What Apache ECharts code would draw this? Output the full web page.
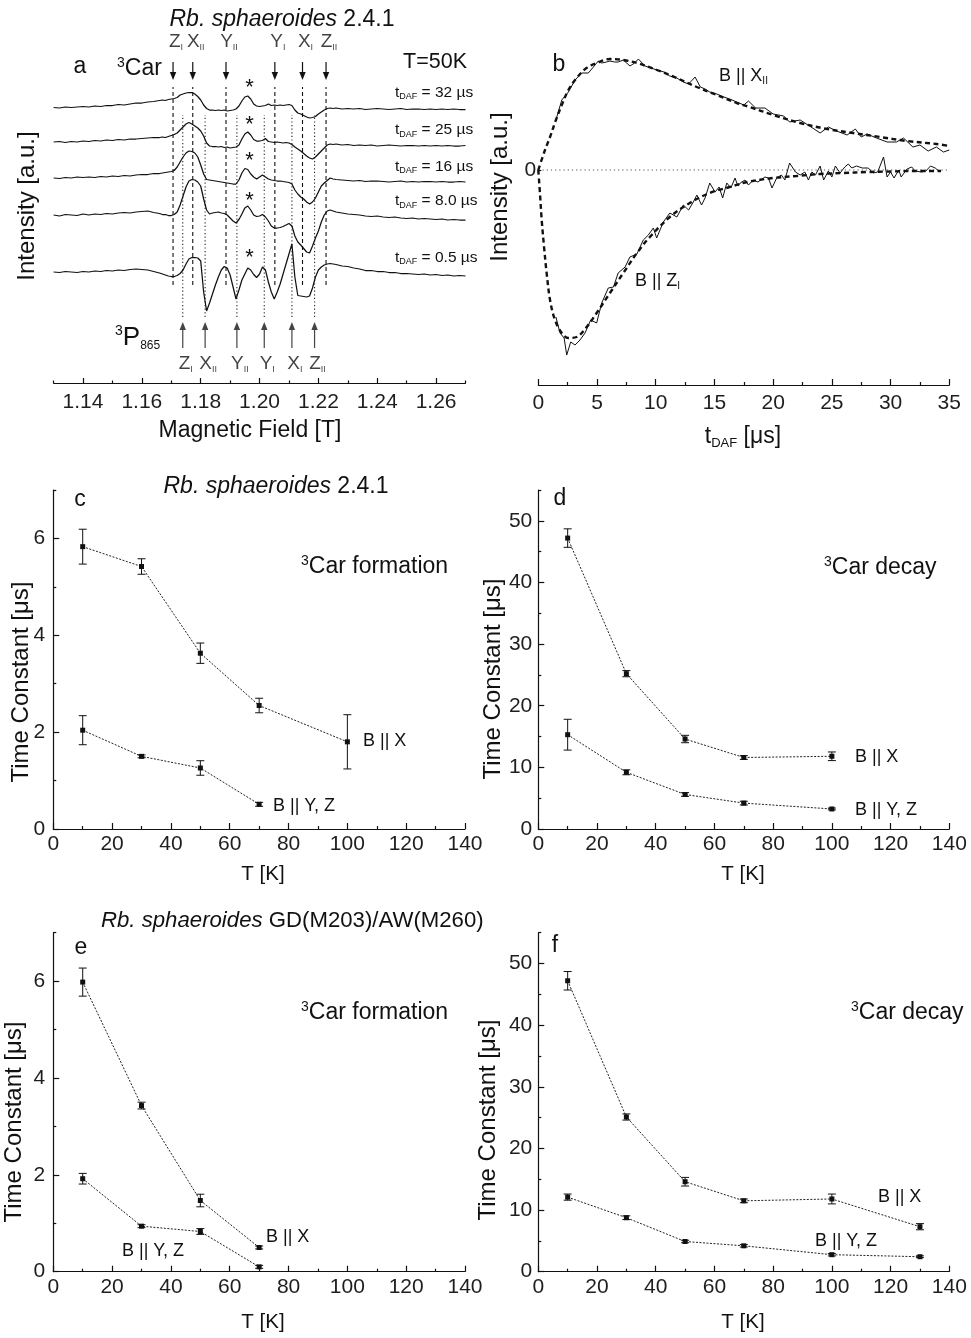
<!DOCTYPE html>
<html><head><meta charset="utf-8">
<script src="https://cdn.jsdelivr.net/npm/echarts@6/dist/echarts.min.js"></script>
<style>html,body{margin:0;padding:0;background:#fff}#c{width:971px;height:1338px}</style>
</head><body><div id="c"></div>
<script>
// ---------------- Panel a: EPR spectra ----------------
const fieldA = [1.130,1.132,1.134,1.136,1.138,1.140,1.142,1.144,1.146,1.148,1.150,1.152,1.154,1.156,1.158,1.160,1.162,1.164,
1.166,1.167,1.168,1.169,1.170,1.171,1.172,1.173,1.174,1.175,1.176,1.177,1.178,1.179,1.180,1.181,1.182,1.183,1.184,1.185,1.186,1.187,1.188,1.189,1.190,1.191,1.192,1.193,1.194,1.195,1.196,1.197,1.198,1.199,1.200,1.201,1.202,1.203,1.204,1.205,1.206,1.207,1.208,1.209,1.210,1.211,1.212,1.213,1.214,1.215,1.216,1.217,1.218,1.219,1.220,1.221,1.222,1.223,1.224,1.225,1.226,
1.228,1.230,1.232,1.234,1.236,1.238,1.240,1.242,1.244,1.246,1.248,1.250,1.252,1.254,1.256,1.258,1.260,1.262,1.264,1.266,1.268,1.270];
const spec32 = [0.5,0,1,0.5,1,1.5,1,2,1.5,2.5,2.5,3.5,3,4,5,5,6,6.5,
7.5,8,7.5,8.5,9,9.5,10.5,13,14,15,15.5,15.5,14,11.5,8,3,-0.5,-2,-2,-2.5,-2,-2.5,-2,-3,-2.5,-2,-1,2,7,11,12,9,4,2,1.5,2,2.5,4,2.5,3,2.5,3,2.5,3,3.5,2.5,-2,-5,-6,-7.5,-9,-10,-9.5,-8.5,-6,-4,-2,-0.5,0,-0.5,0,
-1,-0.5,-1,-0.5,-1.5,-1,-0.5,-1,-1.5,-1,-0.5,-1.5,-1,-1,-1.5,-1,-1.5,-1,-1.5,-1,-1.5,-1.5];
const spec25 = [0,0.5,-0.5,0.5,0,1,0.5,1.5,1,2,1.5,2.5,2,3,3,3.5,4,4.5,
4.5,5,4.5,5.5,6.5,7.5,9,12,15,18,19.5,18,16,14,11,6,-1,-4,-4.5,-4.5,-5,-4.5,-5.5,-5,-6,-5.5,-5,-3,3,8,10,7,2.5,1,1,1.5,3.5,0.5,0,-0.5,0,-0.5,-1,-0.5,-1,-2.5,-5,-7,-9,-11.5,-14,-16,-17,-15,-12,-9,-6,-3,-2,-2.5,-2,
-3,-2.5,-3.5,-3,-3.5,-3,-4,-3.5,-3,-3.5,-4,-3.5,-3.5,-4,-3.5,-4,-3.5,-4,-3.5,-4,-4,-3.5];
const spec16 = [0,-0.5,0.5,0,1,0.5,1,0.5,1.5,1,2,1.5,2.5,2,3,3.5,3.5,4.5,
4.5,5,5.5,6,6.5,7.5,11,16,21,25,27,26.5,25,21,13,4,-1.5,-2,-2.5,-3,-3.5,-4,-4.5,-5,-5.5,-6,-6,-2,5,9.5,8.5,4,1,-1,1,3,1,-1,-2,-2.5,-3,-3,-3.5,-4,-4.5,-6,-12,-16,-19,-21,-24,-26,-24,-20,-14,-8,-5,-2.5,0,-1,-1.5,
-2,-2.5,-3,-2.5,-3.5,-3,-3,-3.5,-4,-3.5,-3,-4,-3.5,-4,-3.5,-3.5,-4,-3.5,-4,-4,-3.5,-4];
const spec8 = [0,-1,0.5,0,-0.5,1,0,1,0.5,1.5,1,2,2.5,2,3,3.5,4,2.5,
1.5,0.5,0.5,-0.5,-0.5,0.5,3,10,19,28,34,35.5,35,33,29,16,5,1,2,2.5,3,2,1.5,0,-3,-6,-8,-4.5,1,7,9,5,0,-1.5,-1,0.5,-2,-6,-11,-13,-13,-12.5,-11.5,-10,-8.5,-11,-21,-27,-30,-33.5,-37,-38,-31,-23,-16,-7,0,4,5,4,3,
2,1,0.5,0,-1,-1.5,-1,-2,-2.5,-2,-3,-3.5,-3,-4,-3.5,-4,-4.5,-4,-5,-4.5,-5,-5];
const spec05 = [0,-0.5,0.5,0,-0.5,0.5,0,1,0.5,1.5,1,2,1.5,2.5,3,2.5,2,0.5,
-1,-2,-3,-4,-4.5,-4.5,-3.5,-1.5,2,8,13,14.5,14.5,14,11,-20,-39,-31,-22,-13,-5,2,5.5,4,-3,-15,-27,-18,-8,-2,4,2,-2.5,-5.5,-2,5,2,-10,-20,-27,-20,-12,-2,8,18,28,-5,-23.5,-24,-24.5,-25,-24,-16,-5,2,5,7,8,8.5,8,7.5,
6,5.5,4,3,1.5,1.5,0.5,0.5,-0.5,-0.5,-1.5,-1.5,-2,-2.5,-2,-3,-2.5,-3.5,-3,-4,-3.5,-4];
const specTraces = [spec32, spec25, spec16, spec8, spec05];
const specOffsets = [275, 241, 205, 168, 111];
const specTimes = ['32', '25', '16', '8.0', '0.5'];
const carLineFields = [1.1706, 1.1773, 1.1886, 1.2052, 1.2146, 1.2226];
const p865LineFields = [1.1739, 1.1815, 1.1923, 1.2016, 1.2110, 1.2187];
const lineLabels = [['Z','I'],['X','II'],['Y','II'],['Y','I'],['X','I'],['Z','II']];
const ticksA = [1.14,1.16,1.18,1.20,1.22,1.24,1.26];
const minorTicksA = [1.13,1.15,1.17,1.19,1.21,1.23,1.25,1.27];

// ---------------- Panel b: transients ----------------
const bXData = [[1.5,0.50],[2.0,0.70],[2.56,0.78],[3.13,0.90],[3.7,0.97],[4.26,0.97],[4.69,1.03],[5.11,1.09],[5.4,1.07],[5.8,1.08],[6.1,1.09],[6.5,1.08],[6.8,1.08],[7.24,1.10],[7.81,1.04],[8.2,1.07],[8.52,1.11],[9.09,1.04],[9.6,1.02],[10.1,1.00],[10.7,0.98],[11.2,0.94],[11.8,0.92],[12.35,0.88],[12.8,0.86],[13.35,0.93],[13.8,0.83],[14.2,0.81],[14.6,0.78],[15.2,0.76],[15.8,0.73],[16.3,0.71],[16.9,0.68],[17.5,0.65],[17.9,0.69],[18.5,0.62],[19.3,0.62],[20.0,0.56],[20.9,0.54],[21.4,0.48],[22.3,0.50],[23.1,0.44],[24.0,0.37],[24.7,0.43],[25.4,0.39],[26.3,0.35],[27.0,0.41],[27.5,0.33],[28.0,0.36],[28.8,0.32],[29.7,0.28],[30.5,0.28],[31.1,0.32],[31.9,0.23],[32.5,0.25],[33.2,0.19],[33.9,0.23],[34.5,0.18],[35.0,0.20]];
const bXFit = [[0,0],[0.57,0.2],[1.0,0.33],[1.5,0.5],[2.0,0.65],[2.56,0.8],[3.27,0.92],[4.1,1.02],[4.97,1.07],[6.1,1.11],[7.24,1.10],[8.4,1.07],[10.1,1.0],[11.8,0.92],[13.5,0.83],[15.2,0.75],[16.9,0.67],[18.0,0.63],[20.0,0.55],[22.3,0.47],[24.6,0.41],[26.8,0.37],[29.1,0.33],[31.4,0.29],[33.9,0.26],[35,0.24]];
const bZData = [[1.5,-1.47],[1.85,-1.63],[2.2,-1.68],[2.42,-1.85],[2.76,-1.72],[3.13,-1.75],[3.55,-1.70],[3.98,-1.63],[4.46,-1.50],[4.97,-1.53],[5.4,-1.33],[5.96,-1.18],[6.4,-1.17],[6.8,-1.03],[7.39,-0.97],[7.8,-0.87],[8.4,-0.84],[8.94,-0.70],[9.37,-0.65],[9.8,-0.58],[10.08,-0.68],[10.65,-0.52],[11.2,-0.43],[11.8,-0.47],[12.35,-0.35],[12.8,-0.40],[13.2,-0.32],[13.5,-0.25],[13.9,-0.35],[14.2,-0.28],[14.6,-0.13],[15.05,-0.22],[15.4,-0.17],[15.7,-0.28],[16.05,-0.13],[16.4,-0.18],[16.75,-0.08],[17.0,-0.16],[17.2,-0.13],[17.6,-0.10],[17.9,-0.15],[18.3,-0.10],[18.7,-0.12],[19.3,-0.07],[19.6,-0.08],[19.9,-0.18],[20.3,-0.08],[20.7,-0.05],[21.0,-0.10],[21.4,0.07],[21.9,-0.02],[22.3,-0.05],[22.7,-0.02],[23.0,-0.10],[23.3,-0.02],[23.6,-0.05],[24.0,0.04],[24.3,-0.10],[24.7,-0.01],[25.0,-0.07],[25.3,0.04],[25.7,-0.03],[26.1,0.03],[26.4,0.06],[26.7,0.02],[27.1,0.04],[27.6,0.02],[28.1,0.02],[28.5,-0.03],[28.9,-0.02],[29.4,0.13],[29.7,-0.07],[30.0,-0.02],[30.3,-0.08],[30.7,0.00],[30.9,-0.07],[31.4,0.01],[31.8,0.03],[32.1,-0.01],[32.6,-0.02],[33.0,-0.01],[33.4,0.04],[33.8,0.02],[34.1,-0.01]];
const bZFit = [[0,0],[0.14,-0.23],[0.29,-0.50],[0.49,-0.77],[0.71,-1.03],[1.0,-1.30],[1.42,-1.50],[2.0,-1.63],[2.56,-1.68],[3.27,-1.67],[4.12,-1.57],[4.97,-1.43],[6.1,-1.23],[7.24,-1.03],[8.4,-0.83],[9.5,-0.67],[11.2,-0.47],[12.9,-0.33],[14.6,-0.23],[16.3,-0.17],[17.8,-0.12],[20,-0.08],[22,-0.06],[24,-0.04],[26,-0.03],[28,-0.02],[30,-0.015],[32,-0.01],[34.3,-0.01]];
const zeroB = [[0,0],[35,0]];
const ticksB = [0,5,10,15,20,25,30,35];
const minorTicksB = [2.5,7.5,12.5,17.5,22.5,27.5,32.5];

// ---------------- Panels c-f: time constants ----------------
const tempsC = [10,30,50,70,100];
const cX = [5.83,5.42,3.63,2.55,1.80], cXErr = [0.36,0.16,0.21,0.15,0.56];
const tempsCYZ = [10,30,50,70];
const cYZ = [2.04,1.50,1.26,0.51], cYZErr = [0.30,0.03,0.15,0.04];
const tempsD = [10,30,50,70,100];
const dX = [47.2,25.2,14.6,11.6,11.8], dXErr = [1.5,0.5,0.6,0.3,0.7];
const dYZ = [15.3,9.2,5.6,4.2,3.25], dYZErr = [2.5,0.4,0.3,0.3,0.15];
const tempsE = [10,30,50,70];
const eX = [5.98,3.43,1.47,0.50], eXErr = [0.29,0.07,0.13,0.03];
const eYZ = [1.92,0.94,0.83,0.10], eYZErr = [0.11,0.03,0.06,0.03];
const tempsF = [10,30,50,70,100,130];
const fX = [47.2,25.1,14.6,11.5,11.8,7.3], fXErr = [1.5,0.5,0.7,0.3,0.8,0.5];
const fYZ = [12.1,8.76,4.9,4.2,2.76,2.43], fYZErr = [0.5,0.3,0.2,0.2,0.2,0.15];
const ticksT = [0,20,40,60,80,100,120,140], minorTicksT = [10,30,50,70,90,110,130];
const ticksForm = [0,2,4,6], minorTicksForm = [1,3,5,7];
const ticksDecay = [0,10,20,30,40,50], minorTicksDecay = [5,15,25,35,45,55];

// ---------------- rendering ----------------
const FF = '"Liberation Sans", Arial, Helvetica, sans-serif';
const INK = '#111111';
const chart = echarts.init(document.getElementById('c'), null, {renderer: 'canvas'});

const grids = [
  {left: 53.6, width: 411.9, top: 40, height: 343},
  {left: 538.3, width: 411, top: 20, height: 365},
  {left: 53.3, width: 411.7, top: 490, height: 339},
  {left: 538.3, width: 411, top: 490, height: 339},
  {left: 53.3, width: 411.7, top: 932.7, height: 339},
  {left: 538.3, width: 411, top: 932.7, height: 339}
];

function axisPair(dim, gi, c) {
  const pos = dim === 'x' ? 'bottom' : 'left';
  const base = {type: 'value', gridIndex: gi, position: pos, min: c.min, max: c.max, splitLine: {show: false}, scale: false};
  const major = Object.assign({}, base, {
    axisLine: {show: !c.noLine, onZero: false, lineStyle: {color: INK, width: 1.2}},
    axisTick: {show: !!c.major, inside: true, length: c.majorLen || 6, customValues: c.major || [], lineStyle: {color: INK, width: 1.2}},
    axisLabel: {show: !!c.labels, customValues: c.labels || [], margin: c.margin == null ? 6 : c.margin, fontSize: c.fs || 21, fontFamily: FF, color: '#1e1e1e', formatter: c.fmt || (v => String(v))}
  });
  const minor = Object.assign({}, base, {
    axisLine: {show: false, onZero: false},
    axisLabel: {show: false},
    axisTick: {show: !!c.minor, inside: true, length: c.minorLen || 3, customValues: c.minor || [], lineStyle: {color: INK, width: 1.2}}
  });
  return [major, minor];
}

// axes are pushed grid by grid in this order
const gridOrder = [0, 1, 2, 4, 3, 5];
function idxFor(g) { return gridOrder.indexOf(g) * 2; }
const xAxes = [], yAxes = [];
xAxes.push(...axisPair('x', 0, {min: 1.13, max: 1.27, major: ticksA, labels: ticksA, minor: minorTicksA, majorLen: 5, minorLen: 2.5, margin: 9, fmt: v => v.toFixed(2)}));
yAxes.push(...axisPair('y', 0, {min: 0, max: 343, noLine: true}));
xAxes.push(...axisPair('x', 1, {min: 0, max: 35, major: ticksB, labels: ticksB, minor: minorTicksB, margin: 8}));
yAxes.push(...axisPair('y', 1, {min: -2.15, max: 1.5, noLine: true, major: [0], labels: [0], majorLen: 3, margin: 2}));
[2, 4].forEach(g => {
  xAxes.push(...axisPair('x', g, {min: 0, max: 140, major: ticksT, labels: ticksT, minor: minorTicksT, margin: 5}));
  yAxes.push(...axisPair('y', g, {min: 0, max: 7, major: ticksForm, labels: ticksForm, minor: minorTicksForm, margin: 8}));
});
[3, 5].forEach(g => {
  xAxes.push(...axisPair('x', g, {min: 0, max: 140, major: ticksT, labels: ticksT, minor: minorTicksT, margin: 5}));
  yAxes.push(...axisPair('y', g, {min: 0, max: 55, major: ticksDecay, labels: ticksDecay, minor: minorTicksDecay, margin: 6}));
});

const series = [];
// panel a traces
specTraces.forEach((tr, k) => {
  series.push({type: 'line', xAxisIndex: idxFor(0), yAxisIndex: idxFor(0), symbol: 'none', silent: true,
    data: fieldA.map((b, i) => [b, specOffsets[k] + tr[i]]),
    lineStyle: {color: INK, width: 1.25}, z: 3});
});
function vlineSeries(fields, y0, y1, dash, color) {
  return {type: 'custom', xAxisIndex: idxFor(0), yAxisIndex: idxFor(0), silent: true, clip: false, z: 2,
    data: fields.map(f => [f, y0, y1]), encode: {x: 0, y: [1, 2]},
    renderItem: (p, api) => {
      const a = api.coord([api.value(0), api.value(1)]), b = api.coord([api.value(0), api.value(2)]);
      return {type: 'line', shape: {x1: a[0], y1: a[1], x2: b[0], y2: b[1]}, style: {stroke: color, lineWidth: 1.1, lineDash: dash}};
    }};
}
series.push(vlineSeries(carLineFields, 98, 296, [4, 3], '#111'));
series.push(vlineSeries(p865LineFields, 66, 268, [1.2, 2.4], '#222'));
function arrowSeries(fields, y0, y1, color) {
  return {type: 'custom', xAxisIndex: idxFor(0), yAxisIndex: idxFor(0), silent: true, clip: false, z: 4,
    data: fields.map(f => [f, y0, y1]), encode: {x: 0, y: [1, 2]},
    renderItem: (p, api) => {
      const a = api.coord([api.value(0), api.value(1)]), b = api.coord([api.value(0), api.value(2)]);
      const dir = b[1] > a[1] ? 1 : -1, L = 8, W = 3.2;
      return {type: 'group', children: [
        {type: 'line', shape: {x1: a[0], y1: a[1], x2: b[0], y2: b[1] - dir * 4}, style: {stroke: color, lineWidth: 1.2}},
        {type: 'polygon', shape: {points: [[b[0], b[1]], [b[0] - W, b[1] - dir * L], [b[0] + W, b[1] - dir * L]]}, style: {fill: color}}
      ]};
    }};
}
series.push(arrowSeries(carLineFields, 321, 303, '#111'));
series.push(arrowSeries(p865LineFields, 35, 61, '#444'));
const arrowRich = {
  m: {fontSize: 19, fontFamily: FF, color: INK, lineHeight: 20, verticalAlign: 'middle'},
  s: {fontSize: 9, fontFamily: FF, color: INK, lineHeight: 9, verticalAlign: 'bottom'}
};
function labelSeries(fields, yv) {
  return {type: 'scatter', xAxisIndex: idxFor(0), yAxisIndex: idxFor(0), silent: true, symbolSize: 1,
    itemStyle: {color: 'rgba(0,0,0,0)'}, z: 5,
    data: fields.map((f, i) => ({value: [f, yv], label: {formatter: '{m|' + lineLabels[i][0] + '}{s|' + lineLabels[i][1] + '}'}})),
    label: {show: true, position: 'inside', offset: [3, 0], rich: arrowRich}};
}
series.push(labelSeries(carLineFields, 341));
series.push(labelSeries(p865LineFields, 19));

// panel b
const bx = idxFor(1);
series.push({type: 'line', xAxisIndex: bx, yAxisIndex: bx, data: zeroB, symbol: 'none', silent: true, lineStyle: {color: '#555', width: 1, type: [1.2, 3]}, z: 1});
series.push({type: 'line', xAxisIndex: bx, yAxisIndex: bx, data: bXData, symbol: 'none', silent: true, lineStyle: {color: INK, width: 1}, z: 3});
series.push({type: 'line', xAxisIndex: bx, yAxisIndex: bx, data: bZData, symbol: 'none', silent: true, lineStyle: {color: INK, width: 1}, z: 3});
series.push({type: 'line', xAxisIndex: bx, yAxisIndex: bx, data: bXFit, symbol: 'none', silent: true, smooth: 0.35, lineStyle: {color: INK, width: 2.4, type: [5, 3.5]}, z: 4});
series.push({type: 'line', xAxisIndex: bx, yAxisIndex: bx, data: bZFit, symbol: 'none', silent: true, smooth: 0.35, lineStyle: {color: INK, width: 2.4, type: [5, 3.5]}, z: 4});

// panels c-f
function errRender(p, api) {
  const x = api.value(0);
  const a = api.coord([x, api.value(2)]), b = api.coord([x, api.value(1)]);
  const w = 4, st = {stroke: INK, lineWidth: 1};
  return {type: 'group', children: [
    {type: 'line', shape: {x1: a[0], y1: a[1], x2: b[0], y2: b[1]}, style: st},
    {type: 'line', shape: {x1: a[0] - w, y1: a[1], x2: a[0] + w, y2: a[1]}, style: st},
    {type: 'line', shape: {x1: b[0] - w, y1: b[1], x2: b[0] + w, y2: b[1]}, style: st}
  ]};
}
function tcSeries(g, temps, vals, errs) {
  const xi = idxFor(g);
  series.push({type: 'line', xAxisIndex: xi, yAxisIndex: xi, silent: true, data: temps.map((t, i) => [t, vals[i]]),
    symbol: 'rect', symbolSize: 5, showSymbol: true, itemStyle: {color: INK}, lineStyle: {color: '#222', width: 1, type: [2, 1.5]}, z: 3});
  series.push({type: 'custom', xAxisIndex: xi, yAxisIndex: xi, silent: true, clip: false, z: 4,
    data: temps.map((t, i) => [t, vals[i] - errs[i], vals[i] + errs[i]]), encode: {x: 0, y: [1, 2]}, renderItem: errRender});
}
tcSeries(2, tempsC, cX, cXErr); tcSeries(2, tempsCYZ, cYZ, cYZErr);
tcSeries(3, tempsD, dX, dXErr); tcSeries(3, tempsD, dYZ, dYZErr);
tcSeries(4, tempsE, eX, eXErr); tcSeries(4, tempsE, eYZ, eYZErr);
tcSeries(5, tempsF, fX, fXErr); tcSeries(5, tempsF, fYZ, fYZErr);

// ---------------- texts ----------------
function rich(size) {
  const s = Math.round(size * 0.55), u = Math.round(size * 0.62);
  return {
    n: {fontSize: size, fontFamily: FF, fill: INK, color: INK, lineHeight: size + 2, verticalAlign: 'middle'},
    i: {fontSize: size, fontFamily: FF, fontStyle: 'italic', fill: INK, color: INK, lineHeight: size + 2, verticalAlign: 'middle'},
    sup: {fontSize: u, fontFamily: FF, fill: INK, color: INK, lineHeight: u, verticalAlign: 'top'},
    sub: {fontSize: s, fontFamily: FF, fill: INK, color: INK, lineHeight: s, verticalAlign: 'bottom'},
    big: {fontSize: Math.round(size * 1.2), fontFamily: FF, fill: INK, color: INK, lineHeight: Math.round(size * 1.2) + 2, verticalAlign: 'middle'}
  };
}
function T(x, y, text, size, align, rot) {
  align = align || 'center';
  return {type: 'text', x: x, y: y, rotation: rot || 0, silent: true, z: 10,
    style: {text: text, fontSize: size, fontFamily: FF, fill: INK, align: align, verticalAlign: 'middle', textAlign: align, textVerticalAlign: 'middle', rich: rich(size)}};
}
const R = Math.PI / 2;
const texts = [
  // panel a
  T(282, 20, '{i|Rb. sphaeroides}{n| 2.4.1}', 23),
  T(80, 67, 'a', 23),
  T(117, 69, '{sup|3}{n|Car}', 23, 'left'),
  T(435, 62.5, 'T=50K', 21.5),
  T(115, 338, '{sup|3}{big|P}{sub|865}', 22, 'left'),
  T(250, 431, 'Magnetic Field [T]', 23),
  T(27, 206, 'Intensity [a.u.]', 24, 'center', R),
  // panel b
  T(559, 65, 'b', 23),
  T(719, 76, '{n|B || X}{sub|II}', 18, 'left'),
  T(635, 281, '{n|B || Z}{sub|I}', 18, 'left'),
  T(743, 437, '{n|t}{sub|DAF}{n| [μs]}', 23),
  T(500, 187, 'Intensity [a.u.]', 24, 'center', R),
  // panel c
  T(276, 487, '{i|Rb. sphaeroides}{n| 2.4.1}', 23),
  T(80, 500, 'c', 23),
  T(301, 567, '{sup|3}{n|Car formation}', 23, 'left'),
  T(363, 741, 'B || X', 18, 'left'),
  T(273, 806, 'B || Y, Z', 18, 'left'),
  T(263, 874, 'T [K]', 20.5),
  T(21, 682, 'Time Constant [μs]', 24, 'center', R),
  // panel d
  T(560, 499, 'd', 23),
  T(824, 568, '{sup|3}{n|Car decay}', 23, 'left'),
  T(855, 757, 'B || X', 18, 'left'),
  T(855, 810, 'B || Y, Z', 18, 'left'),
  T(743, 874, 'T [K]', 20.5),
  T(493, 679, 'Time Constant [μs]', 24, 'center', R),
  // panel e
  T(101, 921, '{i|Rb. sphaeroides}{n| GD(M203)/AW(M260)}', 22.2, 'left'),
  T(81, 948, 'e', 23),
  T(301, 1013, '{sup|3}{n|Car formation}', 23, 'left'),
  T(266, 1237, 'B || X', 18, 'left'),
  T(122, 1251, 'B || Y, Z', 18, 'left'),
  T(263, 1322, 'T [K]', 20.5),
  T(14, 1122, 'Time Constant [μs]', 24, 'center', R),
  // panel f
  T(555, 946, 'f', 23),
  T(851, 1013, '{sup|3}{n|Car decay}', 23, 'left'),
  T(878, 1197, 'B || X', 18, 'left'),
  T(815, 1241, 'B || Y, Z', 18, 'left'),
  T(743, 1322, 'T [K]', 20.5),
  T(488, 1120, 'Time Constant [μs]', 24, 'center', R)
];
const tdafY = [92.5, 130, 166.5, 201, 257.5];
specTimes.forEach((s, k) => texts.push(T(395, tdafY[k], '{n|t}{sub|DAF}{n| = ' + s + ' µs}', 15.5, 'left')));
const starY = [88, 125, 161, 201, 258];
starY.forEach(y => texts.push(T(249.5, y, '*', 22)));

chart.setOption({
  animation: false,
  backgroundColor: '#fff',
  textStyle: {fontFamily: FF},
  grid: grids.map(g => Object.assign({containLabel: false}, g)),
  xAxis: xAxes,
  yAxis: yAxes,
  series: series,
  graphic: texts
});
</script></body></html>
